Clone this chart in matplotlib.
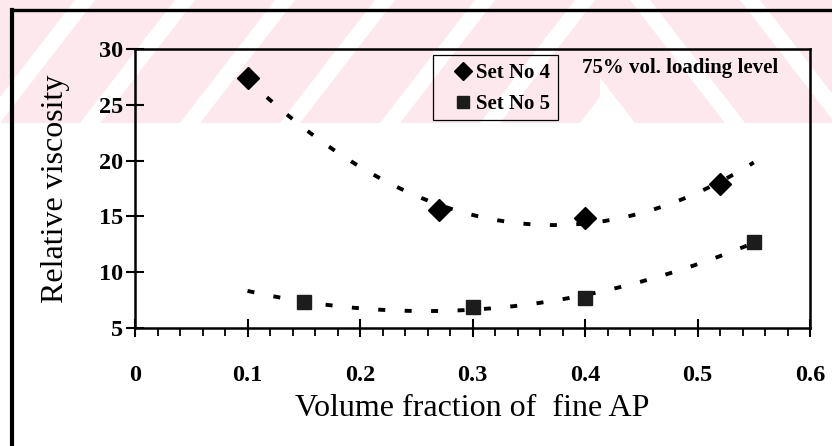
import numpy as np
import matplotlib.pyplot as plt
from matplotlib.patches import Polygon, Rectangle

# datos
x_set4 = [0.10, 0.27, 0.40, 0.52]
y_set4 = [27.4, 15.6, 14.9, 17.9]
x_set5 = [0.15, 0.30, 0.40, 0.55]
y_set5 = [7.3, 6.9, 7.7, 12.7]
trend_range = [0.10, 0.55]
etiquetas = ['Set No 4', 'Set No 5']
xticks = [0, 0.1, 0.2, 0.3, 0.4, 0.5, 0.6]
xtick_labels = ['0', '0.1', '0.2', '0.3', '0.4', '0.5', '0.6']
yticks = [5, 10, 15, 20, 25, 30]

W, H = 832, 446
fig = plt.figure(figsize=(W / 100, H / 100), dpi=100)
serif = 'Liberation Serif'

# fondo en pixeles: franjas rosas y marco
bg = fig.add_axes([0, 0, 1, 1], zorder=0)
bg.set_xlim(0, W)
bg.set_ylim(H, 0)
bg.axis('off')

rosa = '#fde9ed'
alto = 123
periodo = 100
ancho = 80
desp = 95
izq = Rectangle((0, 0), 600, alto, transform=bg.transData)
der = Rectangle((600, 0), W - 600, alto, transform=bg.transData)
for x0 in np.arange(-300, W + 300, periodo):
    p = Polygon([(x0, alto), (x0 + ancho, alto), (x0 + ancho + desp, 0), (x0 + desp, 0)],
                closed=True, fc=rosa, ec='none')
    bg.add_patch(p)
    p.set_clip_path(izq)
for x0 in np.arange(540, W + 300, periodo + 10):
    q = Polygon([(x0, 0), (x0 + ancho + 10, 0), (x0 + ancho + 10 + desp, alto), (x0 + desp, alto)],
                closed=True, fc=rosa, ec='none')
    bg.add_patch(q)
    q.set_clip_path(der)

bg.plot([12, 12], [H, 10], color='black', lw=3, solid_capstyle='projecting')
bg.plot([12, W], [10, 10], color='black', lw=2.4, solid_capstyle='projecting')

bg.text(582, 68, '75% vol. loading level', family=serif, fontweight='bold',
        fontsize=15, ha='left', va='center')

# recuadro de la leyenda
bg.add_patch(Rectangle((433, 55), 125, 65, fill=False, ec='black', lw=0.9))

# grafica principal
ax = fig.add_axes([135 / W, 1 - 328 / H, (810 - 135) / W, (328 - 49) / H], zorder=1)
ax.patch.set_alpha(0)

for xs, ys in [(x_set4, y_set4), (x_set5, y_set5)]:
    coef = np.polyfit(xs, ys, 2)
    xt = np.linspace(trend_range[0], trend_range[1], 200)
    ax.plot(xt, np.polyval(coef, xt), color='black', lw=2.8, dashes=(1.8, 5.0))

ax.plot(x_set4, y_set4, 'D', color='black', ms=11, label=etiquetas[0], zorder=3)
ax.plot(x_set5, y_set5, 's', color='#1c1c1c', ms=10, label=etiquetas[1], zorder=3)

ax.set_xlim(0, 0.6)
ax.set_ylim(5, 30)
ax.set_xticks(xticks)
ax.set_xticklabels(xtick_labels)
ax.set_xticks(np.arange(0, 0.61, 0.02), minor=True)
ax.set_yticks(yticks)

for s in ax.spines.values():
    s.set_linewidth(1.8)

ax.tick_params(axis='both', which='major', direction='inout', length=13, width=1.5)
ax.tick_params(axis='x', which='minor', direction='out', length=6, width=1.3)
ax.tick_params(axis='x', which='major', pad=20)
ax.tick_params(axis='y', which='major', pad=2)
for lbl in ax.get_xticklabels() + ax.get_yticklabels():
    lbl.set_family(serif)
    lbl.set_fontweight('bold')
    lbl.set_fontsize(17.5)

ax.set_xlabel('Volume fraction of  fine AP', family=serif, fontsize=23)
ax.set_ylabel('Relative viscosity', family=serif, fontsize=23)
ax.xaxis.set_label_coords(0.5, -0.287)
ax.yaxis.set_label_coords(-0.1185, 0.5)
ax.xaxis.label.set_va('center')
ax.yaxis.label.set_va('center')

leg = ax.legend(loc='upper left', bbox_to_anchor=(455, 63), bbox_transform=bg.transData,
                borderaxespad=0, borderpad=0, frameon=False, handlelength=0.8,
                handletextpad=0.2, labelspacing=0.55, markerscale=0.85,
                prop={'family': serif, 'weight': 'bold', 'size': 15})

plt.savefig('out.png', dpi=100)
